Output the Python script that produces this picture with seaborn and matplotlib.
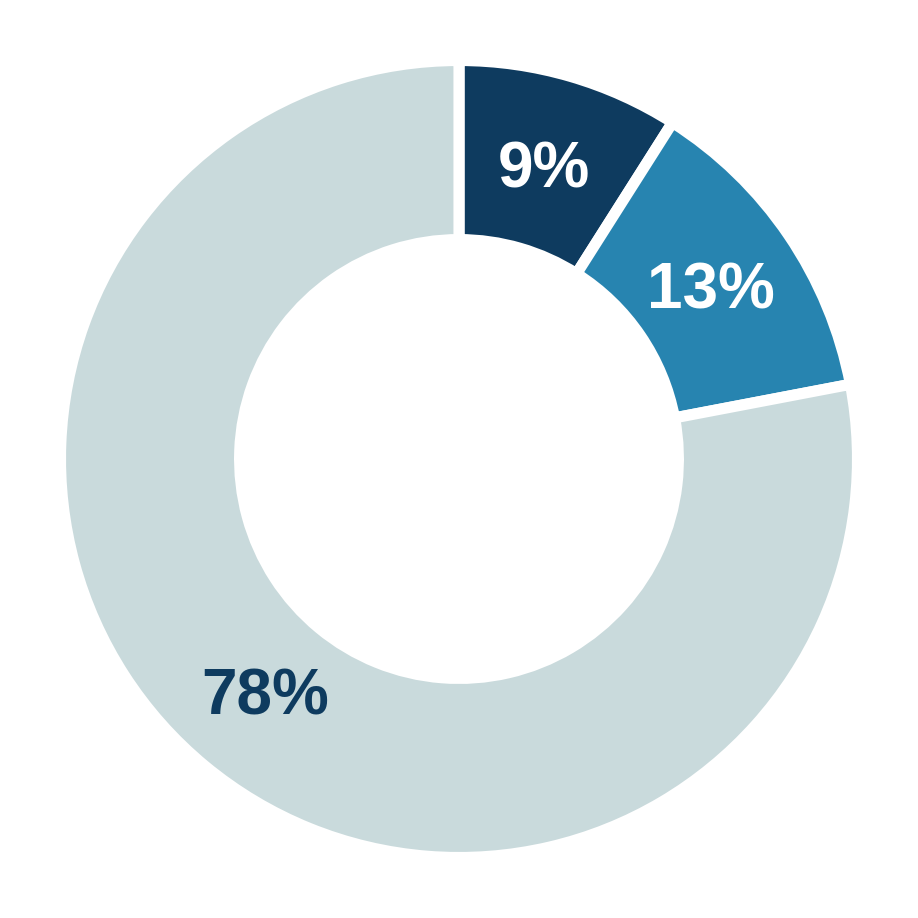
import matplotlib
matplotlib.use("Agg")
import matplotlib.pyplot as plt
import seaborn as sns
import numpy as np

# data
segments = ["A", "B", "C"]
shares = [9, 13, 78]
labels = ["9%", "13%", "78%"]

sns.set_theme(style="white")
plt.rcParams["font.family"] = ["Liberation Sans", "DejaVu Sans"]

colors = sns.color_palette(["#0e3b5f", "#2784b0", "#c9dadc"])
label_colors = ["white", "white", "#0e3b5f"]

fig = plt.figure(figsize=(9.18, 9.18), dpi=100)
ax = fig.add_axes([0, 0, 1, 1])

wedges, _ = ax.pie(
    shares,
    colors=colors,
    startangle=90,
    counterclock=False,
    radius=1.014,
    wedgeprops=dict(width=0.4557, edgecolor="white", linewidth=8),
)

# labels in the middle of the ring
total = sum(shares)
start = 90.0
for val, txt, col in zip(shares, labels, label_colors):
    mid = np.deg2rad(start - val / total * 360 / 2)
    start -= val / total * 360
    r = 0.775
    ax.text(r * np.cos(mid), r * np.sin(mid) - 0.01, txt, ha="center", va="center",
            fontsize=46, fontweight="bold", color=col)

lim = 459 / 393
ax.set_xlim(-lim, lim)
ax.set_ylim(-lim, lim)
ax.set_aspect("equal")
ax.axis("off")

fig.savefig("out.png", dpi=100, facecolor="white")
